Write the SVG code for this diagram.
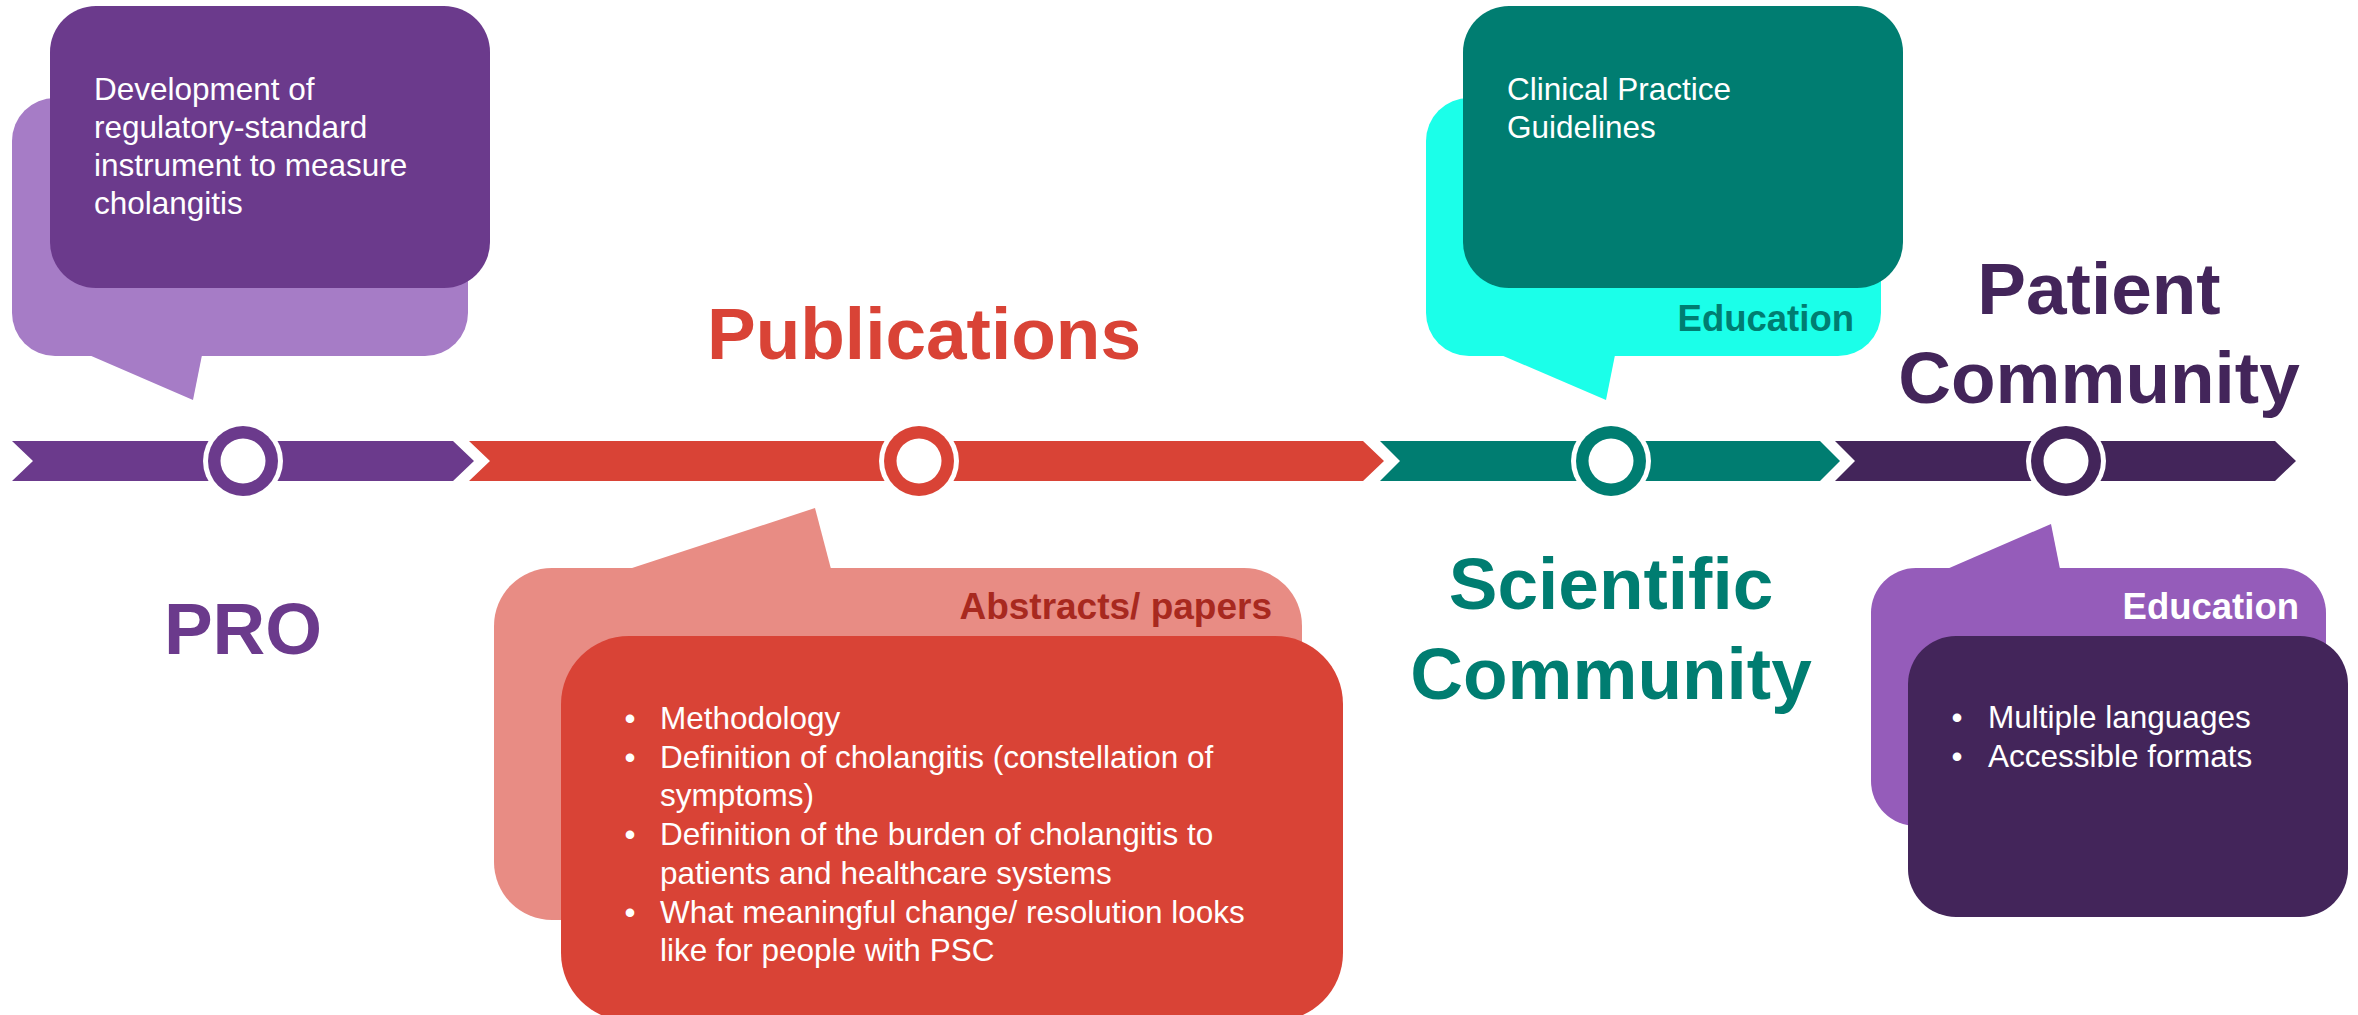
<svg xmlns="http://www.w3.org/2000/svg" width="2358" height="1015" viewBox="0 0 2358 1015">
<style>
.body{font-family:"Liberation Sans",Arial,sans-serif;font-size:31.5px;fill:#ffffff}
.head{font-family:"Liberation Sans",Arial,sans-serif;font-size:73px;font-weight:bold;text-anchor:middle}
.tag{font-family:"Liberation Sans",Arial,sans-serif;font-weight:bold;text-anchor:end}
.bul{text-anchor:middle}
</style>
<rect x="0" y="0" width="2358" height="1015" fill="#ffffff"/>
<g id="connectors">
<path d="M12,441 L453,441 L474,461 L453,481 L12,481 L33,461 Z" fill="#6B3A8C"/>
<path d="M469,441 L1363,441 L1384,461 L1363,481 L469,481 L490,461 Z" fill="#D94336"/>
<path d="M1380,441 L1820,441 L1840,461 L1820,481 L1380,481 L1400,461 Z" fill="#007D71"/>
<path d="M1835,441 L2275,441 L2296,461 L2275,481 L1835,481 L1855,461 Z" fill="#43255A"/>
</g>
<g id="ring-pro"><circle cx="243" cy="461" r="40" fill="#fff"/><circle cx="243" cy="461" r="35" fill="#6B3A8C"/><circle cx="243" cy="461" r="22.5" fill="#fff"/></g>
<g id="ring-pub"><circle cx="919" cy="461" r="40" fill="#fff"/><circle cx="919" cy="461" r="35" fill="#D94336"/><circle cx="919" cy="461" r="22.5" fill="#fff"/></g>
<g id="ring-sci"><circle cx="1611" cy="461" r="40" fill="#fff"/><circle cx="1611" cy="461" r="35" fill="#007D71"/><circle cx="1611" cy="461" r="22.5" fill="#fff"/></g>
<g id="ring-pat"><circle cx="2066" cy="461" r="40" fill="#fff"/><circle cx="2066" cy="461" r="35" fill="#43255A"/><circle cx="2066" cy="461" r="22.5" fill="#fff"/></g>

<g id="label-pro"><text class="head" x="243" y="654" fill="#6B3A8C">PRO</text></g>
<g id="label-pub"><text class="head" x="924" y="359" fill="#D94336">Publications</text></g>
<g id="label-sci"><text class="head" x="1611" y="609" fill="#007D71">Scientific</text><text class="head" x="1611" y="699" fill="#007D71">Community</text></g>
<g id="label-pat"><text class="head" x="2099" y="314" fill="#43255A">Patient</text><text class="head" x="2099" y="403" fill="#43255A">Community</text></g>

<g id="callout-pro">
<rect x="12" y="98" width="456" height="258" rx="43" fill="#A67CC6"/>
<polygon points="89,355 193,400 202,355" fill="#A67CC6"/>
<rect x="50" y="6" width="440" height="282" rx="46" fill="#6B3A8C"/>
<text class="body" x="94" y="100">Development of</text>
<text class="body" x="94" y="138">regulatory-standard</text>
<text class="body" x="94" y="176">instrument to measure</text>
<text class="body" x="94" y="214">cholangitis</text>
</g>

<g id="callout-sci">
<rect x="1426" y="98" width="455" height="258" rx="43" fill="#1BFFE9"/>
<polygon points="1501,355 1606,400 1615,355" fill="#1BFFE9"/>
<text class="tag" x="1854" y="331" font-size="36.5" fill="#007D71">Education</text>
<rect x="1463" y="6" width="440" height="282" rx="46" fill="#007D71"/>
<text class="body" x="1507" y="100">Clinical Practice</text>
<text class="body" x="1507" y="138">Guidelines</text>
</g>

<g id="callout-pub">
<rect x="494" y="568" width="808" height="352" rx="58" fill="#E88C84"/>
<polygon points="629,569 815,508 831,569" fill="#E88C84"/>
<text class="tag" x="1272" y="619" font-size="37" fill="#A8291F">Abstracts/ papers</text>
<rect x="561" y="636" width="782" height="385" rx="68" fill="#D94336"/>
<g class="body">
<text class="bul" x="630" y="729">•</text><text x="660" y="729">Methodology</text>
<text class="bul" x="630" y="767.7">•</text><text x="660" y="767.7">Definition of cholangitis (constellation of</text>
<text x="660" y="806.4">symptoms)</text>
<text class="bul" x="630" y="845.1">•</text><text x="660" y="845.1">Definition of the burden of cholangitis to</text>
<text x="660" y="883.8">patients and healthcare systems</text>
<text class="bul" x="630" y="922.5">•</text><text x="660" y="922.5">What meaningful change/ resolution looks</text>
<text x="660" y="961.2">like for people with PSC</text>
</g>
</g>

<g id="callout-pat">
<rect x="1871" y="568" width="455" height="258" rx="45" fill="#955CBA"/>
<polygon points="1947,569 2051,524 2060,569" fill="#955CBA"/>
<text class="tag" x="2299" y="619" font-size="36.5" fill="#ffffff">Education</text>
<rect x="1908" y="636" width="440" height="281" rx="48" fill="#43255A"/>
<g class="body">
<text class="bul" x="1957" y="728">•</text><text x="1988" y="728">Multiple languages</text>
<text class="bul" x="1957" y="767">•</text><text x="1988" y="767">Accessible formats</text>
</g>
</g>
</svg>
